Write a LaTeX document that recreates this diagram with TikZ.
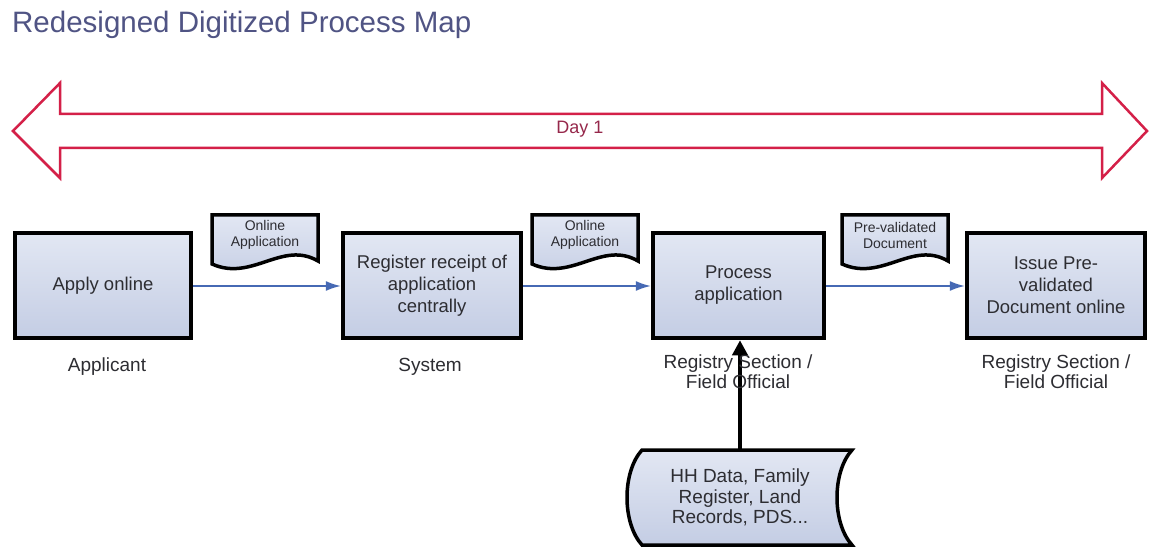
\documentclass[tikz,border=0pt]{standalone}
\usepackage{fontspec}
\setmainfont{Liberation Sans}
\usetikzlibrary{arrows.meta}
\definecolor{titlec}{RGB}{80,84,132}
\definecolor{dayred}{RGB}{212,32,72}
\definecolor{daytxt}{RGB}{150,40,75}
\definecolor{flowblue}{RGB}{70,105,180}
\definecolor{filltop}{RGB}{226,231,243}
\definecolor{fillbot}{RGB}{196,205,228}
\definecolor{txt}{RGB}{45,45,50}
\tikzset{
  procbox/.style={draw=black, line width=4.5pt, top color=filltop, bottom color=fillbot,
    minimum height=105pt, align=center, text=txt, font=\fontsize{18.5}{22}\selectfont, inner sep=2pt},
  docshape/.style={draw=black, line width=3.5pt, top color=filltop, bottom color=fillbot, line join=miter},
  doctext/.style={align=center, text=txt, font=\fontsize{14}{16}\selectfont, inner sep=0pt},
  lbl/.style={align=center, text=txt, font=\fontsize{19}{20}\selectfont, inner sep=0pt},
  flow/.style={draw=flowblue, line width=1.5pt, -{Latex[length=15pt,width=10pt]}},
  feed/.style={draw=black, line width=4.5pt, -{Triangle[length=15pt,width=15pt]}},
}
\begin{document}
\begin{tikzpicture}[x=1pt,y=-1pt]
\useasboundingbox (0,0) rectangle (1149,556);
\fill[white] (0,0) rectangle (1149,556);

% title
\node[anchor=base west, inner sep=0pt, text=titlec, font=\fontsize{29.5}{32}\selectfont] (title) at (12,33) {Redesigned Digitized Process Map};

% Day 1 double arrow
\draw[dayred, line width=2.5pt, line join=miter, fill=white]
  (13,131) -- (60,83) -- (60,114) -- (1102,114) -- (1102,83) -- (1147,131)
  -- (1102,178) -- (1102,148) -- (60,148) -- (60,178) -- cycle;
\node[text=daytxt, font=\fontsize{18}{20}\selectfont, inner sep=0pt] (day) at (580,129) {Day 1};

% document shapes
\foreach \x/\nm/\ta/\tb in {212/d1/Online/Application, 532/d2/Online/Application, 842/d3/Pre-validated/Document}{
  \path[docshape] (\x,215) -- (\x+106,215) -- (\x+106,261)
     .. controls (\x+70,240) and (\x+40,282) .. (\x,264) -- cycle;
  \node[doctext] (\nm) at (\x+53,235) {\ta\\\tb};
}

% process boxes
\node[procbox, minimum width=176pt] (b1) at (103,285.5) {Apply online};
\node[procbox, minimum width=178pt] (b2) at (432,285.5) {Register receipt of\\application\\centrally};
\node[procbox, minimum width=171pt] (b3) at (738.5,285.5) {Process\\application};
\node[procbox, minimum width=178pt] (b4) at (1056,285.5) {Issue Pre-\\validated\\Document online};

% flows
\draw[flow] (b1.east |- 0,286) -- (b2.west |- 0,286);
\draw[flow] (b2.east |- 0,286) -- (b3.west |- 0,286);
\draw[flow] (b3.east |- 0,286) -- (b4.west |- 0,286);

% labels
\node[lbl] (l1) at (107,367) {Applicant};
\node[lbl] (l2) at (430,367) {System};

% data store
\path[docshape] (642,450) -- (852,450) .. controls (832,472) and (832,523) .. (852,545)
   -- (642,545) .. controls (622,523) and (622,472) .. (642,450) -- cycle;
\node[align=center, text=txt, font=\fontsize{19}{20.5}\selectfont, minimum height=95pt, inner sep=0pt] (db) at (740,497.5) {HH Data, Family\\Register, Land\\Records, PDS...};
\draw[feed] (db.north) -- (db.north |- b3.south);

\node[lbl] (l3) at (738,372) {Registry Section /\\Field Official};
\node[lbl] (l4) at (1056,372) {Registry Section /\\Field Official};
\end{tikzpicture}
\end{document}
